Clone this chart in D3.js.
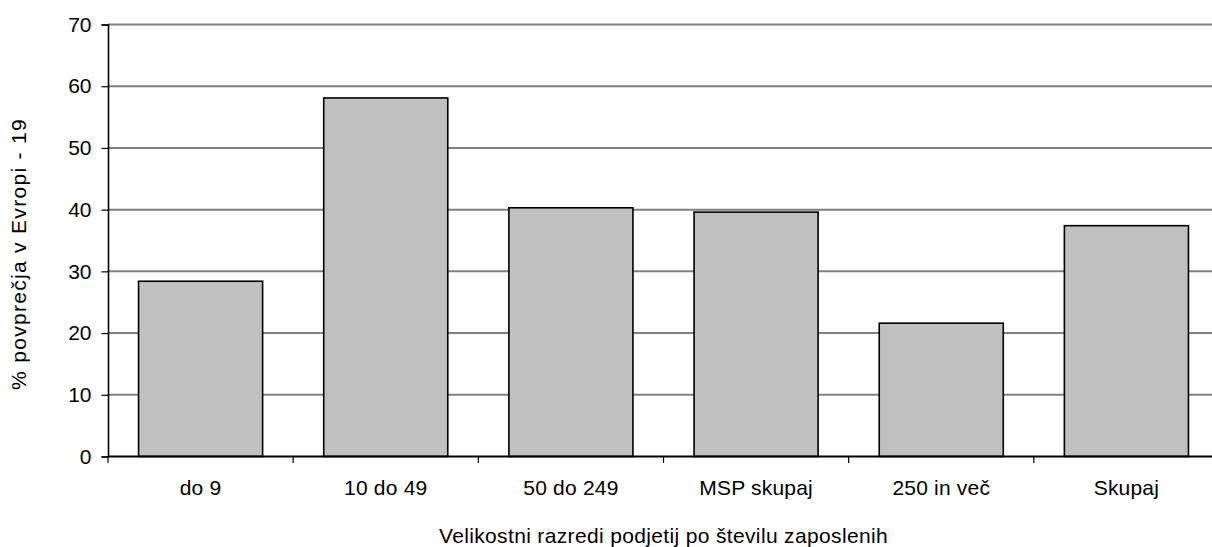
<!DOCTYPE html>
<html>
<head>
<meta charset="utf-8">
<script src="https://cdn.jsdelivr.net/npm/d3@7"></script>
<style>
  html, body { margin: 0; padding: 0; background: #fff; overflow: hidden; }
  svg { display: block; font-family: Arial, "Liberation Sans", sans-serif; }
</style>
</head>
<body>
<svg id="chart" width="1212" height="547"></svg>
<script>
// categories and values (% of Europe-19 average)
const categories = ["do 9", "10 do 49", "50 do 249", "MSP skupaj", "250 in več", "Skupaj"];
const values = [28.4, 58.1, 40.3, 39.6, 21.6, 37.4];
const yTicks = [0, 10, 20, 30, 40, 50, 60, 70];
const yTitle = "% povprečja v Evropi - 19";
const xTitle = "Velikostni razredi podjetij po številu zaposlenih";

const svg = d3.select("#chart");
// plot area; the right edge runs past the window, as in the original
const plotLeft = 108, plotRight = 1219, plotTop = 24.5, plotBottom = 456.5;

const x = d3.scaleBand().domain(categories).range([plotLeft, plotRight]).paddingInner(0.33).paddingOuter(0.165);
const y = d3.scaleLinear().domain([0, 70]).range([plotBottom, plotTop]);

// gridlines
svg.append("g").selectAll("line")
    .data(yTicks.filter(d => d > 0))
    .join("line")
    .attr("x1", plotLeft).attr("x2", plotRight)
    .attr("y1", d => y(d)).attr("y2", d => y(d))
    .style("stroke", "#808080")
    .style("stroke-width", 2);

// bars
svg.append("g").selectAll("rect")
    .data(values)
    .join("rect")
    .attr("x", (d, i) => x(categories[i]))
    .attr("y", d => y(d))
    .attr("width", x.bandwidth())
    .attr("height", d => y(0) - y(d))
    .style("fill", "#c0c0c0")
    .style("stroke", "#000")
    .style("stroke-width", 1.6);

// y axis
const yAxis = svg.append("g")
    .attr("transform", `translate(${plotLeft},0)`)
    .call(d3.axisLeft(y).tickValues(yTicks).tickSize(6.5).tickPadding(10));
yAxis.select(".domain").style("stroke", "#000").style("stroke-width", 1.6);
yAxis.selectAll(".tick line").style("stroke", "#000").style("stroke-width", 1.2);
yAxis.selectAll("text").style("font-size", "21px").style("fill", "#000")
    .style("font-family", "Arial, 'Liberation Sans', sans-serif");

// x axis, ticks on the category boundaries
const step = x.step();
const xAxis = svg.append("g").attr("transform", `translate(0,${plotBottom})`);
xAxis.append("line")
    .attr("x1", plotLeft).attr("x2", plotRight)
    .style("stroke", "#000").style("stroke-width", 1.8);
xAxis.selectAll(".tk")
    .data(d3.range(categories.length + 1))
    .join("line")
    .attr("class", "tk")
    .attr("x1", i => plotLeft + i * step).attr("x2", i => plotLeft + i * step)
    .attr("y1", 0).attr("y2", 6.5)
    .style("stroke", "#000").style("stroke-width", 1.2);
xAxis.selectAll("text")
    .data(categories)
    .join("text")
    .attr("x", d => x(d) + x.bandwidth() / 2)
    .attr("y", 38.5)
    .attr("text-anchor", "middle")
    .style("font-size", "21px")
    .style("letter-spacing", "0.2px")
    .text(d => d);

// axis titles
svg.append("text")
    .attr("x", (plotLeft + plotRight) / 2)
    .attr("y", 543)
    .attr("text-anchor", "middle")
    .style("font-size", "21px")
    .style("letter-spacing", "0.35px")
    .text(xTitle);

svg.append("text")
    .attr("transform", "translate(26,254) rotate(-90)")
    .attr("text-anchor", "middle")
    .style("font-size", "21px")
    .style("letter-spacing", "1.3px")
    .text(yTitle);
</script>
</body>
</html>
